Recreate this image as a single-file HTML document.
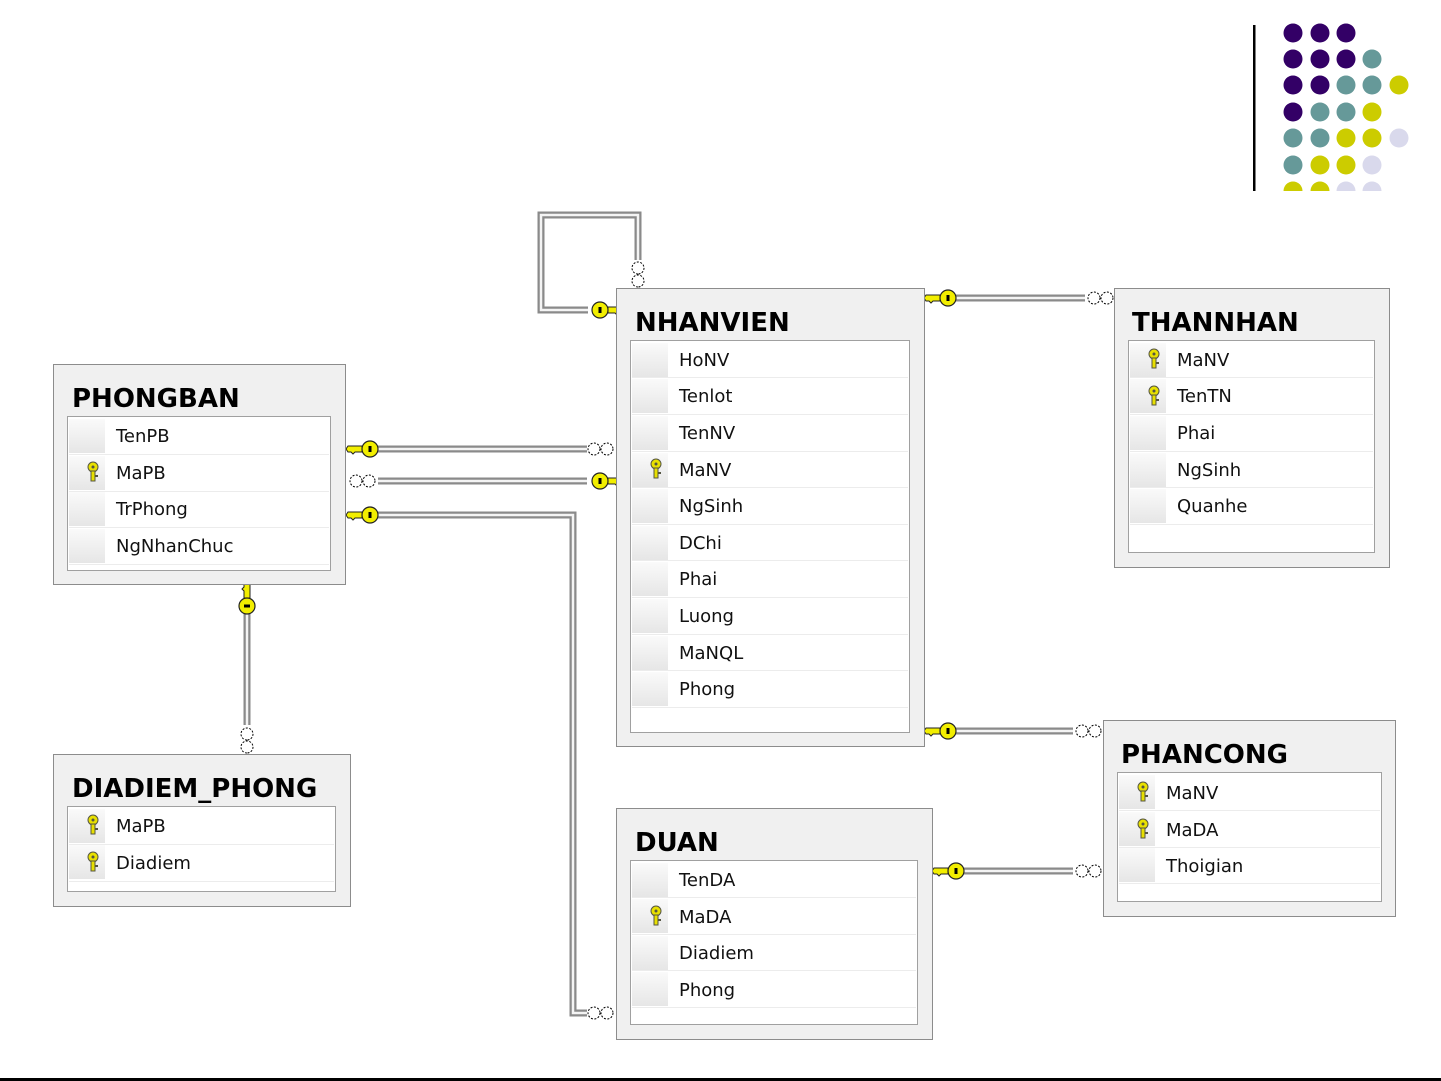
<!DOCTYPE html>
<html><head><meta charset="utf-8"><style>
html,body{margin:0;padding:0;background:#fff;}
svg{display:block;}
.t{font-family:"DejaVu Sans","Liberation Sans",sans-serif;font-weight:bold;font-size:26px;fill:#000;}
.f{font-family:"DejaVu Sans","Liberation Sans",sans-serif;font-size:18px;fill:#111;}
</style></head><body>
<svg width="1441" height="1081" viewBox="0 0 1441 1081" xmlns="http://www.w3.org/2000/svg">
<defs>
<linearGradient id="sel" x1="0" y1="0" x2="0" y2="1"><stop offset="0" stop-color="#fafafa"/><stop offset="1" stop-color="#e6e6e6"/></linearGradient>
<g id="kL"><path d="M-8,-3 L-22,-3 L-24,0 L-22,3 L-19,3 L-17,5 L-15,3 L-8,3 Z" fill="#f2ee00" stroke="#222" stroke-width="1"/><circle cx="0" cy="0" r="8" fill="#f2ee00" stroke="#222" stroke-width="1.2"/><rect x="-1.5" y="-3" width="3" height="6" fill="#000"/></g>
<g id="inf"><circle cx="0" cy="0" r="6" fill="#fff" stroke="#000" stroke-width="1" stroke-dasharray="2,1.5"/><circle cx="13" cy="0" r="6" fill="#fff" stroke="#000" stroke-width="1" stroke-dasharray="2,1.5"/></g>
<g id="fk"><circle cx="0" cy="-5" r="5" fill="#e8e000" stroke="#554" stroke-width="1"/><rect x="-2" y="-1" width="4" height="10" fill="#e8e000" stroke="#554" stroke-width="1"/><rect x="2" y="3" width="3" height="2" fill="#554"/><circle cx="0" cy="-5" r="1.5" fill="#554"/></g>
</defs>

<!-- decorative -->
<rect x="1253" y="25" width="2.5" height="166" fill="#000"/>
<g>
<circle cx="1293" cy="33" r="9.5" fill="#330066"/><circle cx="1320" cy="33" r="9.5" fill="#330066"/><circle cx="1346" cy="33" r="9.5" fill="#330066"/>
<circle cx="1293" cy="59" r="9.5" fill="#330066"/><circle cx="1320" cy="59" r="9.5" fill="#330066"/><circle cx="1346" cy="59" r="9.5" fill="#330066"/><circle cx="1372" cy="59" r="9.5" fill="#669999"/>
<circle cx="1293" cy="85" r="9.5" fill="#330066"/><circle cx="1320" cy="85" r="9.5" fill="#330066"/><circle cx="1346" cy="85" r="9.5" fill="#669999"/><circle cx="1372" cy="85" r="9.5" fill="#669999"/><circle cx="1399" cy="85" r="9.5" fill="#cccc00"/>
<circle cx="1293" cy="112" r="9.5" fill="#330066"/><circle cx="1320" cy="112" r="9.5" fill="#669999"/><circle cx="1346" cy="112" r="9.5" fill="#669999"/><circle cx="1372" cy="112" r="9.5" fill="#cccc00"/>
<circle cx="1293" cy="138" r="9.5" fill="#669999"/><circle cx="1320" cy="138" r="9.5" fill="#669999"/><circle cx="1346" cy="138" r="9.5" fill="#cccc00"/><circle cx="1372" cy="138" r="9.5" fill="#cccc00"/><circle cx="1399" cy="138" r="9.5" fill="#d9d9ec"/>
<circle cx="1293" cy="165" r="9.5" fill="#669999"/><circle cx="1320" cy="165" r="9.5" fill="#cccc00"/><circle cx="1346" cy="165" r="9.5" fill="#cccc00"/><circle cx="1372" cy="165" r="9.5" fill="#d9d9ec"/>
</g>
<g clip-path="inset(0)"><svg x="1270" y="180" width="140" height="11" overflow="hidden" viewBox="1270 180 140 11">
<circle cx="1293" cy="191" r="9.5" fill="#cccc00"/><circle cx="1320" cy="191" r="9.5" fill="#cccc00"/><circle cx="1346" cy="191" r="9.5" fill="#d9d9ec"/><circle cx="1372" cy="191" r="9.5" fill="#d9d9ec"/></svg></g>

<rect x="0" y="1078" width="1441" height="3" fill="#000"/>

<!-- connectors -->
<g fill="none" stroke-linejoin="miter">
<g stroke="#8a8a8a" stroke-width="7">
<path d="M378,449 H587"/><path d="M378,481 H587"/><path d="M378,515 H573 V1013 H587"/>
<path d="M588,310 H541 V215 H638 V260"/>
<path d="M956,298 H1085"/><path d="M956,731 H1073"/><path d="M964,871 H1073"/>
<path d="M247,612 V725"/>
</g>
<g stroke="#f4f4f4" stroke-width="2.5">
<path d="M378,449 H587"/><path d="M378,481 H587"/><path d="M378,515 H573 V1013 H587"/>
<path d="M588,310 H541 V215 H638 V260"/>
<path d="M956,298 H1085"/><path d="M956,731 H1073"/><path d="M964,871 H1073"/>
<path d="M247,612 V725"/>
</g>
</g>
<use href="#kL" x="370" y="449"/>
<use href="#inf" x="594" y="449"/>
<use href="#inf" x="356" y="481"/>
<use href="#kL" transform="translate(600,481) scale(-1,1)"/>
<use href="#kL" x="370" y="515"/>
<use href="#inf" x="594" y="1013"/>
<use href="#kL" transform="translate(600,310) scale(-1,1)"/>
<use href="#inf" transform="translate(638,268) rotate(90)"/>
<use href="#kL" x="948" y="298"/>
<use href="#inf" x="1094" y="298"/>
<use href="#kL" x="948" y="731"/>
<use href="#inf" x="1082" y="731"/>
<use href="#kL" x="956" y="871"/>
<use href="#inf" x="1082" y="871"/>
<use href="#kL" transform="translate(247,606) rotate(90)"/>
<use href="#inf" transform="translate(247,734) rotate(90)"/>

<!-- PHONGBAN -->
<rect x="53.5" y="364.5" width="292" height="220" fill="#f0f0f0" stroke="#8c8c8c"/>
<text class="t" x="72" y="407">PHONGBAN</text>
<rect x="67.5" y="416.5" width="263" height="154" fill="#fff" stroke="#a0a0a0"/>
<g fill="url(#sel)"><rect x="69" y="419" width="36" height="34"/><rect x="69" y="456" width="36" height="34"/><rect x="69" y="492" width="36" height="34"/><rect x="69" y="529" width="36" height="34"/></g>
<g stroke="#ececec"><path d="M69,454.5H329M69,491.5H329M69,527.5H329M69,564.5H329"/></g>
<use href="#fk" x="93" y="472"/>
<text class="f" x="116" y="442">TenPB</text><text class="f" x="116" y="479">MaPB</text><text class="f" x="116" y="515">TrPhong</text><text class="f" x="116" y="552">NgNhanChuc</text>

<!-- DIADIEM_PHONG -->
<rect x="53.5" y="754.5" width="297" height="152" fill="#f0f0f0" stroke="#8c8c8c"/>
<text class="t" x="72" y="797">DIADIEM_PHONG</text>
<rect x="67.5" y="806.5" width="268" height="85" fill="#fff" stroke="#a0a0a0"/>
<g fill="url(#sel)"><rect x="69" y="809" width="36" height="34"/><rect x="69" y="845" width="36" height="34"/></g>
<g stroke="#ececec"><path d="M69,844.5H334M69,881.5H334"/></g>
<use href="#fk" x="93" y="825"/><use href="#fk" x="93" y="862"/>
<text class="f" x="116" y="832">MaPB</text><text class="f" x="116" y="869">Diadiem</text>

<!-- NHANVIEN -->
<rect x="616.5" y="288.5" width="308" height="458" fill="#f0f0f0" stroke="#8c8c8c"/>
<text class="t" x="635" y="331">NHANVIEN</text>
<rect x="630.5" y="340.5" width="279" height="392" fill="#fff" stroke="#a0a0a0"/>
<g fill="url(#sel)">
<rect x="632" y="343" width="36" height="34"/><rect x="632" y="379" width="36" height="34"/><rect x="632" y="416" width="36" height="34"/><rect x="632" y="453" width="36" height="34"/><rect x="632" y="489" width="36" height="34"/><rect x="632" y="526" width="36" height="34"/><rect x="632" y="562" width="36" height="34"/><rect x="632" y="599" width="36" height="34"/><rect x="632" y="636" width="36" height="34"/><rect x="632" y="672" width="36" height="34"/>
</g>
<g stroke="#ececec"><path d="M632,377.5H908M632,414.5H908M632,451.5H908M632,487.5H908M632,524.5H908M632,560.5H908M632,597.5H908M632,634.5H908M632,670.5H908M632,707.5H908"/></g>
<use href="#fk" x="656" y="469"/>
<text class="f" x="679" y="366">HoNV</text><text class="f" x="679" y="402">Tenlot</text><text class="f" x="679" y="439">TenNV</text><text class="f" x="679" y="476">MaNV</text><text class="f" x="679" y="512">NgSinh</text><text class="f" x="679" y="549">DChi</text><text class="f" x="679" y="585">Phai</text><text class="f" x="679" y="622">Luong</text><text class="f" x="679" y="659">MaNQL</text><text class="f" x="679" y="695">Phong</text>

<!-- THANNHAN -->
<rect x="1114.5" y="288.5" width="275" height="279" fill="#f0f0f0" stroke="#8c8c8c"/>
<text class="t" x="1132" y="331">THANNHAN</text>
<rect x="1128.5" y="340.5" width="246" height="212" fill="#fff" stroke="#a0a0a0"/>
<g fill="url(#sel)"><rect x="1130" y="343" width="36" height="34"/><rect x="1130" y="379" width="36" height="34"/><rect x="1130" y="416" width="36" height="34"/><rect x="1130" y="453" width="36" height="34"/><rect x="1130" y="489" width="36" height="34"/></g>
<g stroke="#ececec"><path d="M1130,377.5H1373M1130,414.5H1373M1130,451.5H1373M1130,487.5H1373M1130,524.5H1373"/></g>
<use href="#fk" x="1154" y="359"/><use href="#fk" x="1154" y="396"/>
<text class="f" x="1177" y="366">MaNV</text><text class="f" x="1177" y="402">TenTN</text><text class="f" x="1177" y="439">Phai</text><text class="f" x="1177" y="476">NgSinh</text><text class="f" x="1177" y="512">Quanhe</text>

<!-- PHANCONG -->
<rect x="1103.5" y="720.5" width="292" height="196" fill="#f0f0f0" stroke="#8c8c8c"/>
<text class="t" x="1121" y="763">PHANCONG</text>
<rect x="1117.5" y="772.5" width="264" height="129" fill="#fff" stroke="#a0a0a0"/>
<g fill="url(#sel)"><rect x="1119" y="775" width="36" height="34"/><rect x="1119" y="812" width="36" height="34"/><rect x="1119" y="848" width="36" height="34"/></g>
<g stroke="#ececec"><path d="M1119,810.5H1380M1119,847.5H1380M1119,883.5H1380"/></g>
<use href="#fk" x="1143" y="792"/><use href="#fk" x="1143" y="829"/>
<text class="f" x="1166" y="799">MaNV</text><text class="f" x="1166" y="836">MaDA</text><text class="f" x="1166" y="872">Thoigian</text>

<!-- DUAN -->
<rect x="616.5" y="808.5" width="316" height="231" fill="#f0f0f0" stroke="#8c8c8c"/>
<text class="t" x="635" y="851">DUAN</text>
<rect x="630.5" y="860.5" width="287" height="164" fill="#fff" stroke="#a0a0a0"/>
<g fill="url(#sel)"><rect x="632" y="863" width="36" height="34"/><rect x="632" y="899" width="36" height="34"/><rect x="632" y="936" width="36" height="34"/><rect x="632" y="972" width="36" height="34"/></g>
<g stroke="#ececec"><path d="M632,897.5H916M632,934.5H916M632,970.5H916M632,1007.5H916"/></g>
<use href="#fk" x="656" y="916"/>
<text class="f" x="679" y="886">TenDA</text><text class="f" x="679" y="923">MaDA</text><text class="f" x="679" y="959">Diadiem</text><text class="f" x="679" y="996">Phong</text>
</svg>
</body></html>
